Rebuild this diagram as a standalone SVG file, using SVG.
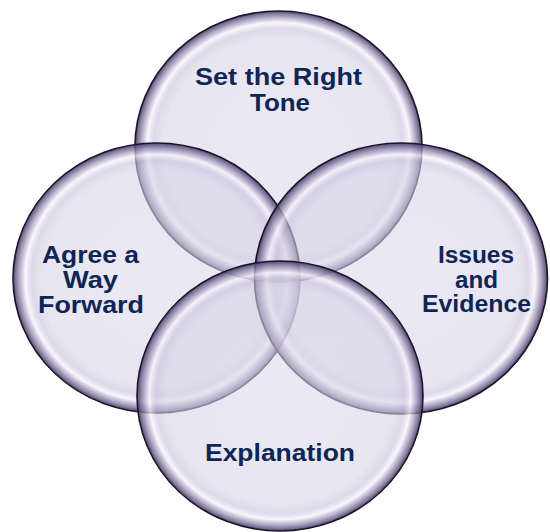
<svg xmlns="http://www.w3.org/2000/svg" width="550" height="532" viewBox="0 0 550 532">
  <defs>
    <radialGradient id="bubble" cx="0.5" cy="0.5" r="0.5">
      <stop offset="0" stop-color="#dcd9ea" stop-opacity="0.58"/>
      <stop offset="0.8" stop-color="#d7d3e6" stop-opacity="0.58"/>
      <stop offset="0.87" stop-color="#c9c2dc" stop-opacity="0.62"/>
      <stop offset="0.915" stop-color="#f6f4fb" stop-opacity="0.75"/>
      <stop offset="0.955" stop-color="#9c90b6" stop-opacity="0.75"/>
      <stop offset="1" stop-color="#463a60" stop-opacity="0.92"/>
    </radialGradient>
  </defs>
  <style>
    .c { fill: url(#bubble); stroke: #1c152e; stroke-width: 1.6; }
    .t { font-family: "Liberation Sans", Arial, sans-serif; font-weight: bold; font-size: 23.5px; fill: #0e2557; text-anchor: middle; }
  </style>
  <rect width="550" height="532" fill="#ffffff"/>
  <g id="node-top">
    <ellipse class="c" cx="278.5" cy="146.5" rx="143.5" ry="135.5"/>
  </g>
  <g id="node-left">
    <ellipse class="c" cx="156.5" cy="278" rx="143.5" ry="135"/>
  </g>
  <g id="node-right">
    <ellipse class="c" cx="401" cy="278.5" rx="146.5" ry="135.5"/>
  </g>
  <g id="node-bottom">
    <ellipse class="c" cx="280" cy="396" rx="143" ry="135"/>
  </g>
  <g id="labels">
    <text class="t" x="278.5" y="85" textLength="167" lengthAdjust="spacingAndGlyphs">Set the Right</text>
    <text class="t" x="280" y="111" textLength="60" lengthAdjust="spacingAndGlyphs">Tone</text>
    <text class="t" x="90.5" y="263" textLength="97" lengthAdjust="spacingAndGlyphs">Agree a</text>
    <text class="t" x="90.5" y="288" textLength="55" lengthAdjust="spacingAndGlyphs">Way</text>
    <text class="t" x="91" y="313" textLength="106" lengthAdjust="spacingAndGlyphs">Forward</text>
    <text class="t" x="476" y="263" textLength="76" lengthAdjust="spacingAndGlyphs">Issues</text>
    <text class="t" x="476.5" y="288" textLength="43" lengthAdjust="spacingAndGlyphs">and</text>
    <text class="t" x="476.5" y="312" textLength="109" lengthAdjust="spacingAndGlyphs">Evidence</text>
    <text class="t" x="280" y="461" textLength="150" lengthAdjust="spacingAndGlyphs">Explanation</text>
  </g>
</svg>
